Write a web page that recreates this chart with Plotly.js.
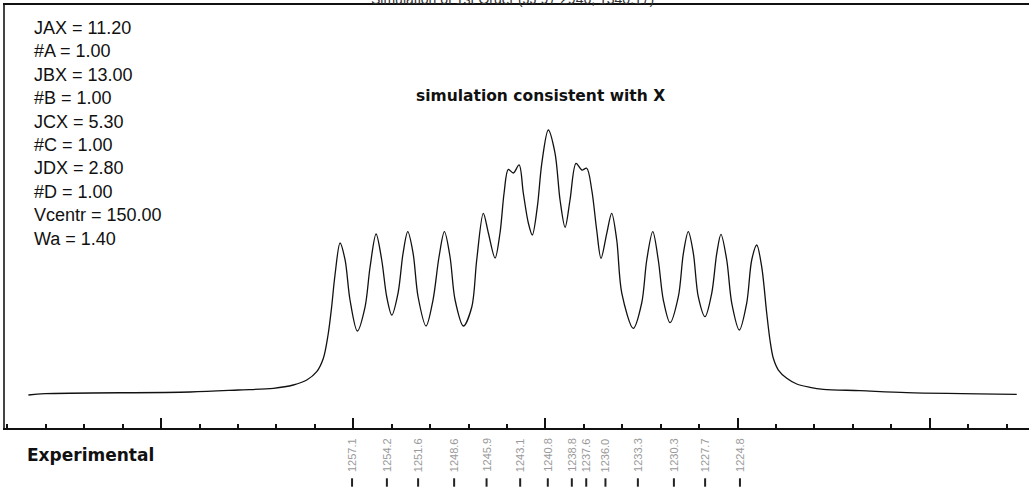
<!DOCTYPE html>
<html>
<head>
<meta charset="utf-8">
<script src="https://cdn.plot.ly/plotly-3.0.1.min.js"></script>
<style>html,body{margin:0;padding:0;background:#fff;}#chart{width:1029px;height:489px;}</style>
</head>
<body>
<div id="chart"></div>
<script>
// Simulated spectrum (wavenumber, relative intensity)
const simWavenumber = [1284.05,1282.66,1270.59,1266.57,1263.65,1261.99,1260.87,1260.04,1259.49,1259.10,1258.81,1258.52,1258.10,1257.68,1257.27,1256.66,1256.02,1255.60,1255.10,1254.63,1254.21,1253.79,1253.27,1252.85,1252.46,1252.02,1251.60,1250.94,1250.36,1249.86,1249.41,1248.94,1248.52,1247.83,1247.13,1246.72,1246.17,1245.75,1245.19,1244.78,1244.44,1244.09,1243.67,1243.19,1242.84,1242.42,1242.09,1241.67,1241.30,1240.76,1240.20,1239.78,1239.36,1238.95,1238.45,1237.97,1237.56,1237.14,1236.73,1236.37,1235.89,1235.48,1235.06,1234.64,1233.68,1232.98,1232.56,1232.06,1231.60,1231.18,1230.62,1229.93,1229.51,1229.10,1228.68,1228.27,1227.71,1227.15,1226.73,1226.38,1225.90,1225.48,1224.85,1224.24,1223.82,1223.40,1222.99,1222.57,1222.30,1222.02,1221.60,1220.90,1220.07,1218.97,1217.86,1214.80,1210.91,1201.75];
const simIntensity = [11.07,11.51,12.08,12.75,13.32,14.43,16.11,18.89,23.39,31.21,40.27,51.34,62.08,56.38,42.95,32.55,40.60,54.03,65.10,56.38,43.96,37.92,45.30,58.72,65.87,58.72,43.96,34.23,42.95,57.38,65.87,57.38,42.95,34.23,40.60,56.38,72.05,65.44,57.05,65.44,78.86,86.81,85.57,88.26,78.86,68.79,64.77,74.26,88.83,100.0,92.28,76.51,67.35,76.51,88.83,86.58,87.15,79.87,66.44,56.95,65.34,72.05,63.09,45.30,33.46,41.95,56.38,65.87,56.38,42.95,35.34,44.06,58.62,65.87,58.62,44.06,37.35,45.20,58.62,65.00,56.38,41.85,32.89,41.85,56.38,61.41,54.13,38.49,29.53,23.39,19.46,16.68,14.77,13.66,12.99,12.52,11.85,11.31];

// Experimental line positions and their labels
const expLines = [1257.1,1254.2,1251.6,1248.6,1245.9,1243.1,1240.8,1238.8,1237.6,1236.0,1233.3,1230.3,1227.7,1224.8];
const expLabels = ['1257.1','1254.2','1251.6','1248.6','1245.9','1243.1','1240.8','1238.8','1237.6','1236.0','1233.3','1230.3','1227.7','1224.8'];

// Fit parameters shown in the top-left
const params = ['JAX = 11.20','#A = 1.00','JBX = 13.00','#B = 1.00','JCX = 5.30','#C = 1.00','JDX = 2.80','#D = 1.00','Vcentr = 150.00','Wa = 1.40'];

const mainTitle = 'Simulation of 1st Order (JJ 97 2946, 1340.17)';
const subTitle = 'simulation consistent with X';
const expTitle = 'Experimental';

const traces = [
  {
    x: simWavenumber, y: simIntensity, type: 'scatter', mode: 'lines',
    line: {color: '#111', width: 1.3, shape: 'spline', smoothing: 0.9},
    xaxis: 'x', yaxis: 'y', hoverinfo: 'skip'
  },
  {
    x: expLines, y: expLines.map(() => 1), type: 'scatter', mode: 'markers',
    marker: {symbol: 'line-ns-open', size: 6, color: '#222', line: {color: '#222', width: 2}},
    xaxis: 'x', yaxis: 'y2', hoverinfo: 'skip', cliponaxis: false
  }
];

const annotations = [
  {text: params.join('<br>'), xref: 'paper', yref: 'paper', x: 0.0264, y: 0.734,
   xanchor: 'left', yanchor: 'middle', align: 'left', showarrow: false,
   font: {family: 'Arial, Liberation Sans, sans-serif', size: 18, color: '#111'}},
  {text: '<b>' + subTitle + '</b>', xref: 'paper', yref: 'paper', x: 0.5225, y: 0.812,
   xanchor: 'center', yanchor: 'middle', showarrow: false,
   font: {family: 'DejaVu Sans, sans-serif', size: 15.5, color: '#111'}},
  {text: '<b>' + expTitle + '</b>', xref: 'paper', yref: 'paper', x: 0.0195, y: 0.0702,
   xanchor: 'left', yanchor: 'middle', showarrow: false,
   font: {family: 'DejaVu Sans, sans-serif', size: 17, color: '#111'}},
  {text: mainTitle, xref: 'paper', yref: 'paper', x: 0.496, y: 1.0124,
   xanchor: 'center', yanchor: 'middle', showarrow: false,
   font: {family: 'Arial, Liberation Sans, sans-serif', size: 14, color: '#333'}}
];
expLines.forEach((v, i) => {
  annotations.push({
    text: expLabels[i], xref: 'x', yref: 'paper', x: v, y: 0.0702,
    xanchor: 'center', yanchor: 'middle', textangle: -90, showarrow: false,
    font: {family: 'Arial, Liberation Sans, sans-serif', size: 11, color: '#9a9a9a'}
  });
});

const layout = {
  width: 1029, height: 489,
  margin: {l: 5, r: 0, t: 5, b: 0, pad: 0},
  paper_bgcolor: '#fff', plot_bgcolor: '#fff',
  showlegend: false,
  xaxis: {
    range: [1286.0, 1200.73], anchor: 'y',
    showline: true, linecolor: '#111', linewidth: 2, mirror: true,
    showgrid: false, zeroline: false, showticklabels: false,
    tickmode: 'linear', tick0: 1209, dtick: 16,
    ticks: 'inside', ticklen: 10, tickwidth: 2, tickcolor: '#111',
    minor: {tickmode: 'linear', tick0: 1209, dtick: 3.2, ticks: 'inside', ticklen: 4, tickwidth: 2, tickcolor: '#111', showgrid: false}
  },
  yaxis: {
    domain: [0.12603, 1], range: [0, 141.95], anchor: 'x',
    showline: true, linecolor: '#444', linewidth: 2,
    showgrid: false, zeroline: false, showticklabels: false, ticks: ''
  },
  yaxis2: {
    domain: [0, 0.1], range: [0, 7.45], anchor: 'x', visible: false,
    showgrid: false, zeroline: false
  },
  annotations: annotations
};

Plotly.newPlot('chart', traces, layout, {displayModeBar: false, staticPlot: true});
</script>
</body>
</html>
